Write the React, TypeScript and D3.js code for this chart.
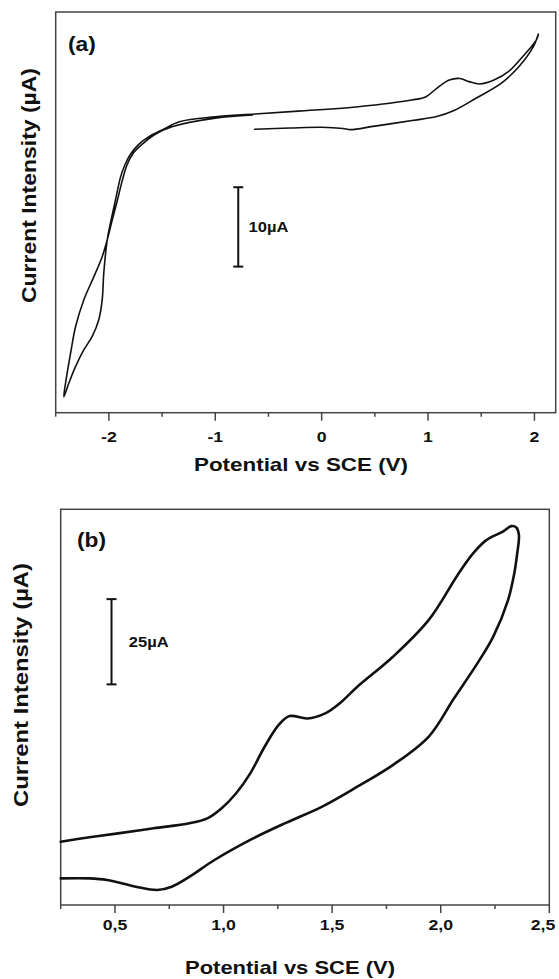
import React from 'react';
import * as d3 from 'd3';

const W = 559;
const H = 979;

// ---------- Panel (a) data ----------
const aMajorTicks = [-2, -1, 0, 1, 2];
const aMinorTicks = [-2.5, -1.5, -0.5, 0.5, 1.5];
const aTickLabels = ['-2', '-1', '0', '1', '2'];
const aPotential = [
  -0.63, -0.3, 0.0, 0.2, 0.27, 0.5, 0.85, 1.08, 1.25, 1.45, 1.69, 1.855, 1.99, 2.037,
  2.02, 1.889, 1.755, 1.62, 1.486, 1.385, 1.3, 1.2, 1.082, 0.981, 0.847, 0.342, -0.162, -0.626,
  -1.0, -1.338, -1.5, -1.62, -1.72, -1.8, -1.85, -1.89, -1.938, -1.985, -2.016,
  -2.048, -2.063, -2.095, -2.157, -2.236, -2.314, -2.377, -2.424,
  -2.398, -2.36, -2.314, -2.236, -2.142, -2.063, -2.016,
  -1.97, -1.925, -1.875, -1.83, -1.77, -1.68, -1.56, -1.4, -1.0, -0.65,
];
const aCurrent = [
  35.7, 35.85, 35.95, 35.8, 35.65, 36.1, 36.8, 37.3, 38.1, 39.6, 41.5, 43.6, 46.1, 47.7,
  47.0, 44.84, 42.95, 41.9, 41.4, 41.7, 42.1, 41.9, 40.86, 39.8, 39.38, 38.54, 38.04, 37.62,
  37.28, 36.65, 35.6, 34.8, 33.8, 32.5, 31.2, 29.7, 26.8, 23.9, 21.75,
  17.6, 14.2, 11.7, 9.6, 7.9, 5.8, 3.7, 2.0,
  4.5, 7.5, 10.8, 14.2, 17.1, 19.65, 21.75,
  24.2, 26.5, 29.2, 31.2, 32.7, 33.9, 35.1, 36.05, 37.1, 37.5,
];
const aScaleBar = { potential: -0.784, from: 18.4, to: 28.4, label: '10µA' };

// ---------- Panel (b) data ----------
const bMajorTicks = [0.5, 1.0, 1.5, 2.0, 2.5];
const bMinorTicks = [0.25, 0.75, 1.25, 1.75, 2.25];
const bTickLabels = ['0,5', '1,0', '1,5', '2,0', '2,5'];
const bPotential = [
  0.25, 0.382, 0.514, 0.678, 0.843, 0.925, 0.99, 1.057, 1.123, 1.189, 1.254, 1.304, 1.386,
  1.468, 1.534, 1.616, 1.78, 1.945, 2.078, 2.149, 2.21, 2.286, 2.325, 2.348,
  2.36, 2.352, 2.338, 2.31, 2.242, 2.159, 2.06, 1.945, 1.781, 1.616, 1.452, 1.287, 1.123,
  0.958, 0.843, 0.761, 0.695, 0.596, 0.464, 0.382, 0.25,
];
const bCurrent = [
  18.56, 19.85, 21.0, 22.5, 23.96, 25.4, 28.3, 32.7, 38.6, 46.4, 52.8, 55.4, 54.7,
  56.2, 59.1, 64.0, 72.8, 83.6, 96.8, 103.1, 107.0, 109.5, 111.1, 110.7,
  108.5, 103.0, 97.0, 89.4, 78.7, 69.9, 60.5, 49.4, 41.1, 34.7, 28.8, 24.1, 19.1,
  13.2, 8.3, 5.37, 4.4, 5.37, 7.33, 7.8, 7.8,
];
const bScaleBar = { potential: 0.484, from: 64.7, to: 89.7, label: '25µA' };

const xTitle = 'Potential vs SCE (V)';
const yTitle = 'Current Intensity (µA)';

const FONT = '"Liberation Sans", Arial, Helvetica, sans-serif';
const SX = 1.14;

type PanelProps = {
  left: number; right: number; top: number; bottom: number;
  xDomain: [number, number]; yDomain: [number, number];
  potential: number[]; current: number[];
  major: number[]; minor: number[]; labels: string[];
  bar: { potential: number; from: number; to: number; label: string };
  tag: string; tagX: number; tagY: number;
  xTitleX: number; xTitleY: number; xTitleLen: number;
  yTitleX: number; yTitleY: number; yTitleLen: number;
  tickLabelY: number; lineWidth: number;
  barTextX: number;
};

function Panel(p: PanelProps) {
  const x = d3.scaleLinear().domain(p.xDomain).range([p.left, p.right]);
  const y = d3.scaleLinear().domain(p.yDomain).range([p.bottom, p.top]);
  const pts: [number, number][] = p.potential.map((v, i) => [v, p.current[i]]);
  const line = d3
    .line<[number, number]>()
    .x((d) => x(d[0]))
    .y((d) => y(d[1]))
    .curve(d3.curveCatmullRom.alpha(0.5));
  const bx = x(p.bar.potential);
  const by1 = y(p.bar.from);
  const by2 = y(p.bar.to);
  return (
    <g>
      <rect
        x={p.left}
        y={p.top}
        width={p.right - p.left}
        height={p.bottom - p.top}
        fill="none"
        stroke="#444"
        strokeWidth={1.5}
      />
      {p.major.map((t) => (
        <line key={'M' + t} x1={x(t)} x2={x(t)} y1={p.bottom} y2={p.bottom + 8} stroke="#444" strokeWidth={1.5} />
      ))}
      {p.minor.map((t) => (
        <line key={'m' + t} x1={x(t)} x2={x(t)} y1={p.bottom} y2={p.bottom + 4} stroke="#444" strokeWidth={1.5} />
      ))}
      {p.major.map((t, i) => (
        <text
          key={'L' + t}
          transform={`translate(${Math.min(x(t), W - 16)},${p.tickLabelY}) scale(${SX},1)`}
          textAnchor="middle"
          fontFamily={FONT}
          fontWeight="bold"
          fontSize={15.5}
          fill="#111"
        >
          {p.labels[i]}
        </text>
      ))}
      <path d={line(pts) || ''} fill="none" stroke="#111" strokeWidth={p.lineWidth} strokeLinejoin="round" strokeLinecap="round" />
      <line x1={bx} x2={bx} y1={by1} y2={by2} stroke="#111" strokeWidth={2} />
      <line x1={bx - 5} x2={bx + 5} y1={by1} y2={by1} stroke="#111" strokeWidth={2} />
      <line x1={bx - 5} x2={bx + 5} y1={by2} y2={by2} stroke="#111" strokeWidth={2} />
      <text
        transform={`translate(${p.barTextX},${(by1 + by2) / 2}) scale(${SX},1)`}
        dy="0.35em"
        fontFamily={FONT}
        fontWeight="bold"
        fontSize={14.5}
        fill="#111"
      >
        {p.bar.label}
      </text>
      <text
        transform={`translate(${p.tagX},${p.tagY}) scale(${SX},1)`}
        fontFamily={FONT}
        fontWeight="bold"
        fontSize={20}
        fill="#111"
      >
        {p.tag}
      </text>
      <text
        x={p.xTitleX}
        y={p.xTitleY}
        textAnchor="middle"
        fontFamily={FONT}
        fontWeight="bold"
        fontSize={19}
        fill="#111"
        textLength={p.xTitleLen}
        lengthAdjust="spacingAndGlyphs"
      >
        {xTitle}
      </text>
      <text
        transform={`translate(${p.yTitleX},${p.yTitleY}) rotate(-90)`}
        textAnchor="middle"
        dy="0.35em"
        fontFamily={FONT}
        fontWeight="bold"
        fontSize={20}
        fill="#111"
        textLength={p.yTitleLen}
        lengthAdjust="spacingAndGlyphs"
      >
        {yTitle}
      </text>
    </g>
  );
}

export default function App() {
  return (
    <svg
      width={W}
      height={H}
      viewBox={`0 0 ${W} ${H}`}
      style={{ position: 'absolute', left: 0, top: 0, background: '#fff' }}
    >
      <rect x={0} y={0} width={W} height={H} fill="#fff" />
      <Panel
        left={55.7}
        right={555.7}
        top={12}
        bottom={412.7}
        xDomain={[-2.5, 2.2]}
        yDomain={[0, 50.47]}
        potential={aPotential}
        current={aCurrent}
        major={aMajorTicks}
        minor={aMinorTicks}
        labels={aTickLabels}
        bar={aScaleBar}
        tag="(a)"
        tagX={68}
        tagY={51}
        xTitleX={301}
        xTitleY={471}
        xTitleLen={214}
        yTitleX={29}
        yTitleY={185.5}
        yTitleLen={235}
        tickLabelY={442}
        lineWidth={1.6}
        barTextX={248.6}
      />
      <Panel
        left={60.7}
        right={549.3}
        top={509.3}
        bottom={905}
        xDomain={[0.25, 2.5]}
        yDomain={[0, 116.04]}
        potential={bPotential}
        current={bCurrent}
        major={bMajorTicks}
        minor={bMinorTicks}
        labels={bTickLabels}
        bar={bScaleBar}
        tag="(b)"
        tagX={77}
        tagY={547}
        xTitleX={290}
        xTitleY={974}
        xTitleLen={210}
        yTitleX={21}
        yTitleY={685}
        yTitleLen={244}
        tickLabelY={930}
        lineWidth={2.6}
        barTextX={128.8}
      />
    </svg>
  );
}
